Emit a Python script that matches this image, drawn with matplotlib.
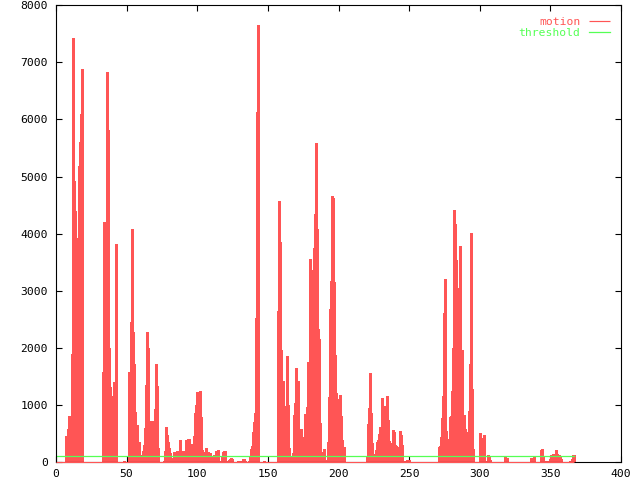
import numpy as np
import matplotlib
matplotlib.use("Agg")
import matplotlib.pyplot as plt

# motion value per sample (one sample every ~0.708 time units, starting at 0)
motion = (
    [0] * 10
    + [450, 450, 580, 800, 525, 650, 1900, 7420, 4930, 4390, 1570, 1190, 3920, 5180, 5610, 6100, 6880]
    + [0] * 20
    + [1585, 4200, 3570, 3000, 6830, 5820, 2000, 1320, 980, 490, 1160, 1410, 1290, 3810]
    + [0] * 7 + [20] + [0] * 4
    + [1570, 1460, 2460, 4080, 2270, 1710, 880, 340, 650, 175, 345, 40, 0, 130, 200, 300, 600]
    + [1350, 2270, 2000, 220, 200, 720, 475, 445, 720, 925, 1720, 1330, 250]
    + [0] * 5
    + [20, 190, 615, 475, 350, 240, 150, 45, 10, 75, 175, 60, 130, 190, 140, 150, 385, 95, 75, 190,
       115, 135, 385, 340, 400, 400, 180, 315, 140, 150, 455, 855, 1000, 1230, 1190, 895, 1250, 780, 210, 175,
       175, 175, 250, 60, 175, 35, 165, 45, 95, 25, 115, 10, 190, 200, 210, 25, 5, 10, 95, 175,
       190, 190, 10, 10, 10]
    + [35, 45, 70, 60, 5, 5, 5, 5, 5, 25, 5, 25, 25, 25, 60, 60, 25, 5, 5, 5,
       25, 80, 235, 285, 525, 700, 865, 2530, 6130, 7655]
    + [0] * 5 + [25] + [0] * 13
    + [2650, 4580, 3850, 1965, 1145, 1425, 980, 925, 615, 1860, 1000, 240, 100, 0, 0, 150,
       825, 1035, 1650, 560, 1420, 50, 250, 580, 220, 370, 445, 840, 755, 965, 1755, 1420, 3560, 3370, 2650, 1425,
       3750, 4350, 5590, 4090, 2330, 2150, 680, 0, 95, 175, 220, 10, 10, 35, 350, 1140, 2685, 3175, 4665, 4625, 3145,
       1880, 1205, 1110, 910, 195, 1170, 805, 385, 170, 255]
    + [0] * 22
    + [110, 665, 940, 1560, 850, 330, 10, 60, 140, 210, 355, 390, 490, 610, 590, 1120, 585, 330, 980, 645,
       1160, 735, 360, 335, 95, 330, 560, 530, 300, 280, 270, 270, 0, 545, 470, 305, 0, 10, 0, 25, 35, 35, 35]
    + [0] * 29
    + [270, 280, 445, 770, 1160, 2610, 3210, 550, 400, 150, 0, 785, 805, 1235, 2005, 4420, 4175, 3545, 2270, 150,
       3055, 3780, 650, 1965, 590, 825, 575, 525, 35, 280, 895, 1710, 4005, 1275, 220]
    + [0] * 6
    + [515, 200, 420, 385, 470, 25, 25, 25, 130, 80, 35]
    + [0] * 14 + [80, 70, 70] + [0] * 23 + [70, 45, 45, 105] + [0] * 6
    + [210, 235, 80, 0, 0, 25, 10, 0, 0, 45, 130, 60, 140, 70, 140, 210, 140, 70, 130, 80, 60]
    + [0] * 8 + [10, 25, 45, 130, 130]
)
dt = 400 / 565
t = np.arange(len(motion)) * dt
threshold = [100] * len(motion)

x_ticks = [0, 50, 100, 150, 200, 250, 300, 350, 400]
y_ticks = [0, 1000, 2000, 3000, 4000, 5000, 6000, 7000, 8000]

red = "#ff5555"
green = "#55ff55"
font = "DejaVu Sans Mono"

fig = plt.figure(figsize=(6.4, 4.8), dpi=100)
ax = fig.add_axes([56 / 640, 1 - 462 / 480, 565 / 640, 456.7 / 480])

ax.vlines(t, 0, motion, colors=red, linewidth=0.85, antialiased=False, label="motion")
ax.hlines(0, t[0], t[-1], colors=red, linewidth=0.8, zorder=3, clip_on=False)
ax.plot(t, threshold, color=green, linewidth=0.9, label="threshold")

ax.set_xlim(0, 400)
ax.set_ylim(0, 8000)
ax.set_xticks(x_ticks)
ax.set_yticks(y_ticks)
ax.tick_params(direction="in", length=4, width=0.8, top=True, right=True, labelsize=8.2)
ax.tick_params(axis="x", pad=5)
ax.tick_params(axis="y", pad=6)
for lab in ax.get_xticklabels() + ax.get_yticklabels():
    lab.set_family(font)
for sp in ax.spines.values():
    sp.set_linewidth(0.8)

leg = ax.legend(loc="upper right", bbox_to_anchor=(0.981, 0.974), frameon=False, markerfirst=False,
                borderpad=0, borderaxespad=0, handlelength=1.9, handletextpad=0.7, labelspacing=0.05,
                prop={"family": font, "size": 8.2})
for txt, c in zip(leg.get_texts(), [red, green]):
    txt.set_color(c)

plt.savefig("out.png", dpi=100)
